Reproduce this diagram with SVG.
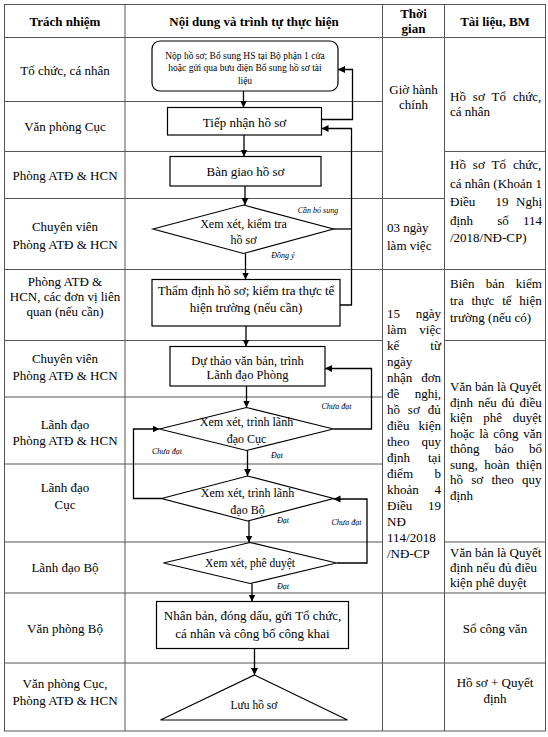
<svg xmlns="http://www.w3.org/2000/svg" width="548" height="737" viewBox="0 0 548 737" font-family="Liberation Serif, Tinos, Times New Roman, DejaVu Serif, serif">
<style>
text{font-family:"Liberation Serif","Tinos","Times New Roman","DejaVu Serif",serif;fill:#000}
.t{font-size:13px}
.c{text-anchor:middle}
.e{text-anchor:end}
.b{font-weight:bold}
.s{font-size:9.5px}
.d{font-size:12px}
.l{font-size:8px;font-style:italic;text-anchor:middle}
.grid{stroke:#555;stroke-width:1;fill:none}
.box{fill:#fff;stroke:#000;stroke-width:1.2}
.con{fill:none;stroke:#000;stroke-width:1.3}
</style>
<defs>
<marker id="ah" markerWidth="8" markerHeight="8" refX="7" refY="4" orient="auto" markerUnits="userSpaceOnUse"><path d="M0,0.5 L7,4 L0,7.5 z" fill="#000"/></marker>
</defs>
<rect width="548" height="737" fill="#fff"/>
<g id="table">
<rect class="grid" x="4.5" y="4.5" width="541" height="726.5"/>
<path class="grid" d="M125 4.5V731M382.5 4.5V731M444.5 4.5V731
M4.5 37.5H545.5M4.5 101.5H382.5M4.5 151.5H382.5M444.5 151.5H545.5M4.5 198.5H444.5M4.5 269.5H545.5
M4.5 340.5H382.5M444.5 340.5H545.5M4.5 397H382.5M4.5 464H382.5M4.5 542H382.5M444.5 542H545.5
M4.5 593H545.5M4.5 663H545.5"/>
</g>
<g id="header">
<text class="t b c" x="65" y="25.5">Trách nhiệm</text>
<text class="t b c" x="254" y="25.5">Nội dung và trình tự thực hiện</text>
<text class="t b c" x="413.5" y="18">Thời</text>
<text class="t b c" x="413.5" y="33">gian</text>
<text class="t b c" x="495" y="25.5">Tài liệu, BM</text>
</g>
<g id="col-responsibility">
<text class="t c" x="65" y="75">Tổ chức, cá nhân</text>
<text class="t c" x="65" y="131">Văn phòng Cục</text>
<text class="t c" x="65" y="179.5">Phòng ATĐ &amp; HCN</text>
<text class="t c" x="65" y="231">Chuyên viên</text>
<text class="t c" x="65" y="249">Phòng ATĐ &amp; HCN</text>
<text class="t c" x="65" y="286">Phòng ATĐ &amp;</text>
<text class="t c" x="65" y="301">HCN, các đơn vị liên</text>
<text class="t c" x="65" y="316">quan (nếu cần)</text>
<text class="t c" x="65" y="363">Chuyên viên</text>
<text class="t c" x="65" y="380">Phòng ATĐ &amp; HCN</text>
<text class="t c" x="65" y="429">Lãnh đạo</text>
<text class="t c" x="65" y="444.5">Phòng ATĐ &amp; HCN</text>
<text class="t c" x="65" y="491.5">Lãnh đạo</text>
<text class="t c" x="65" y="508.5">Cục</text>
<text class="t c" x="65" y="572">Lãnh đạo Bộ</text>
<text class="t c" x="65" y="633">Văn phòng Bộ</text>
<text class="t c" x="65" y="688">Văn phòng Cục,</text>
<text class="t c" x="65" y="704.5">Phòng ATĐ &amp; HCN</text>
</g>
<g id="col-time">
<text class="t c" x="413.5" y="93.5">Giờ hành</text>
<text class="t c" x="413.5" y="108.5">chính</text>
<text class="t" x="387" y="231.5">03 ngày</text>
<text class="t" x="387" y="249.5">làm việc</text>
<text class="t" x="387" y="317.5">15</text><text class="t e" x="441" y="317.5">ngày</text>
<text class="t" x="387" y="333.5">làm</text><text class="t e" x="441" y="333.5">việc</text>
<text class="t" x="387" y="349.5">kể</text><text class="t e" x="441" y="349.5">từ</text>
<text class="t" x="387" y="365.5">ngày</text>
<text class="t" x="387" y="381.5">nhận</text><text class="t e" x="441" y="381.5">đơn</text>
<text class="t" x="387" y="397.5">đề</text><text class="t e" x="441" y="397.5">nghị,</text>
<text class="t" x="387" y="413.5" word-spacing="4.6">hồ sơ đủ</text>
<text class="t" x="387" y="429.5">điều</text><text class="t e" x="441" y="429.5">kiện</text>
<text class="t" x="387" y="445.5">theo</text><text class="t e" x="441" y="445.5">quy</text>
<text class="t" x="387" y="461.5">định</text><text class="t e" x="441" y="461.5">tại</text>
<text class="t" x="387" y="477.5">điểm</text><text class="t e" x="441" y="477.5">b</text>
<text class="t" x="387" y="493.5">khoản</text><text class="t e" x="441" y="493.5">4</text>
<text class="t" x="387" y="509.5">Điều</text><text class="t e" x="441" y="509.5">19</text>
<text class="t" x="387" y="525.5">NĐ</text>
<text class="t" x="387" y="541.5">114/2018</text>
<text class="t" x="387" y="557.5">/NĐ-CP</text>
</g>
<g id="col-docs">
<text class="t" x="450" y="101" word-spacing="3.7">Hồ sơ Tổ chức,</text>
<text class="t" x="450" y="115.5">cá nhân</text>
<text class="t" x="450" y="169" word-spacing="3.7">Hồ sơ Tổ chức,</text>
<text class="t" x="450" y="187.5">cá nhân (Khoản 1</text>
<text class="t" x="450" y="206">Điều</text><text class="t c" x="502" y="206">19</text><text class="t e" x="542" y="206">Nghị</text>
<text class="t" x="450" y="225">định</text><text class="t c" x="503" y="225">số</text><text class="t e" x="542" y="225">114</text>
<text class="t" x="450" y="242">/2018/NĐ-CP)</text>
<text class="t" x="450" y="288" word-spacing="8">Biên bản kiểm</text>
<text class="t" x="450" y="305" word-spacing="4.5">tra thực tế hiện</text>
<text class="t" x="450" y="322">trường (nếu có)</text>
<text class="t" x="450" y="391">Văn bản là Quyết</text>
<text class="t" x="450" y="406.5" word-spacing="1.6">định nếu đủ điều</text>
<text class="t" x="450" y="422" word-spacing="7.6">kiện phê duyệt</text>
<text class="t" x="450" y="437.5" word-spacing="1.4">hoặc là công văn</text>
<text class="t" x="450" y="453" word-spacing="12">thông báo bổ</text>
<text class="t" x="450" y="468.5" word-spacing="3.2">sung, hoàn thiện</text>
<text class="t" x="450" y="484" word-spacing="5">hồ sơ theo quy</text>
<text class="t" x="450" y="499.5">định</text>
<text class="t" x="450" y="556.5">Văn bản là Quyết</text>
<text class="t" x="450" y="571.5">định nếu đủ điều</text>
<text class="t" x="450" y="586.5">kiện phê duyệt</text>
<text class="t c" x="495" y="632.5">Sổ công văn</text>
<text class="t c" x="495" y="686.5">Hồ sơ + Quyết</text>
<text class="t c" x="495" y="703">định</text>
</g>
<g id="connectors">
<path class="con" marker-end="url(#ah)" d="M243.5 91V107.5"/>
<path class="con" marker-end="url(#ah)" d="M244 135V156.5"/>
<path class="con" marker-end="url(#ah)" d="M245 186V205"/>
<path class="con" marker-end="url(#ah)" d="M245.5 253.5V279.5"/>
<path class="con" marker-end="url(#ah)" d="M246 326V346.5"/>
<path class="con" marker-end="url(#ah)" d="M246.5 386V407.5"/>
<path class="con" marker-end="url(#ah)" d="M247.5 450.5V476"/>
<path class="con" marker-end="url(#ah)" d="M249 521V542.5"/>
<path class="con" marker-end="url(#ah)" d="M252 583.5V601.5"/>
<path class="con" marker-end="url(#ah)" d="M254.5 648.5V675"/>
<path class="con" marker-end="url(#ah)" d="M321.5 119.5H352.5V69.5H338"/>
<path class="con" marker-end="url(#ah)" d="M340 305H351.5V128.5H321.5"/>
<path class="con" d="M333.5 229H351.5"/>
<path class="con" marker-end="url(#ah)" d="M333.5 429H371.5V368.5H325"/>
<path class="con" marker-end="url(#ah)" d="M161.5 498.5H133.5V429H159.5"/>
<path class="con" marker-end="url(#ah)" d="M336.5 563H367V499H333.5"/>
<text class="l" x="318" y="213">Cần bổ sung</text>
<text class="l" x="283" y="258">Đồng ý</text>
<text class="l" x="336.5" y="408.5">Chưa đạt</text>
<text class="l" x="167" y="454">Chưa đạt</text>
<text class="l" x="277" y="458">Đạt</text>
<text class="l" x="283" y="523">Đạt</text>
<text class="l" x="346.5" y="524.5">Chưa đạt</text>
<text class="l" x="283" y="589">Đạt</text>
</g>
<g id="n1">
<rect class="box" x="152" y="41" width="186" height="50" rx="8"/>
<text class="s c" x="245" y="58.5">Nộp hồ sơ; Bổ sung HS tại Bộ phận 1 cửa</text>
<text class="s c" x="245" y="70.5">hoặc gửi qua bưu điện Bổ sung hồ sơ tài</text>
<text class="s c" x="245" y="83.5">liệu</text>
</g>
<g id="n2">
<rect class="box" x="167.5" y="107.5" width="154" height="27.5"/>
<text class="t c" x="244.5" y="127">Tiếp nhận hồ sơ</text>
</g>
<g id="n3">
<rect class="box" x="170" y="156.5" width="151" height="29.5"/>
<text class="t c" x="245.5" y="175.5">Bàn giao hồ sơ</text>
</g>
<g id="n4">
<polygon class="box" points="153,229 243.5,205 333.5,229 243.5,253.5"/>
<text class="d c" x="243.5" y="228">Xem xét, kiểm tra</text>
<text class="d c" x="243.5" y="244">hồ sơ</text>
</g>
<g id="n5">
<rect class="box" x="152" y="279.5" width="188" height="46.5"/>
<text class="t c" x="246" y="294.5">Thẩm định hồ sơ; kiểm tra thực tế</text>
<text class="t c" x="246" y="312">hiện trường (nếu cần)</text>
</g>
<g id="n6">
<rect class="box" x="170" y="346.5" width="155" height="39.5"/>
<text class="t c" x="247.5" y="364.5" style="font-size:12.5px">Dự thảo văn bản, trình</text>
<text class="t c" x="247.5" y="379" style="font-size:12.5px">Lãnh đạo Phòng</text>
</g>
<g id="n7">
<polygon class="box" points="159.5,429 246.5,407.5 333.5,429 246.5,450.5"/>
<text class="d c" x="246.5" y="425.5">Xem xét, trình lãnh</text>
<text class="d c" x="246.5" y="443">đạo Cục</text>
</g>
<g id="n8">
<polygon class="box" points="161.5,498.5 247.5,476 333.5,498.5 247.5,521"/>
<text class="d c" x="247.5" y="496.5">Xem xét, trình lãnh</text>
<text class="d c" x="247.5" y="513.5">đạo Bộ</text>
</g>
<g id="n9">
<polygon class="box" points="163.5,563 250,542.5 336.5,563 250,583.5"/>
<text class="d c" x="250" y="567" style="font-size:11.5px">Xem xét, phê duyệt</text>
</g>
<g id="n10">
<rect class="box" x="156.5" y="601.5" width="192" height="47"/>
<text class="t c" x="252.5" y="619.5">Nhân bản, đóng dấu, gửi Tổ chức,</text>
<text class="t c" x="252.5" y="637.5">cá nhân và công bố công khai</text>
</g>
<g id="n11">
<polygon class="box" points="254.5,675 347.5,720 160.5,720"/>
<text class="c" x="254" y="709" style="font-size:11.5px">Lưu hồ sơ</text>
</g>
</svg>
